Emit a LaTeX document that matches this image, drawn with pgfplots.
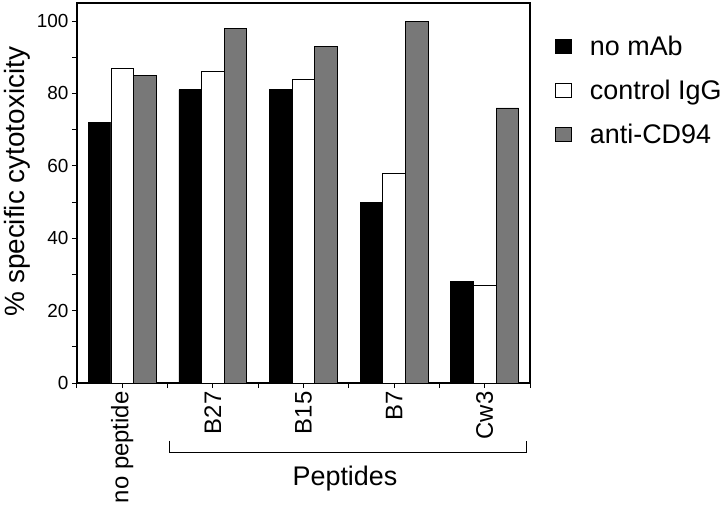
\documentclass[border=0pt]{standalone}
\usepackage{fontspec}
\setmainfont{Liberation Sans}
\usepackage{pgfplots}
\pgfplotsset{compat=1.18}
\definecolor{cdgray}{gray}{0.47}
\pgfplotsset{sqlegend/.style={legend image code/.code={\draw[##1] (0bp,-7bp) rectangle (16bp,7bp); \path (32bp,0bp);}}}
\begin{document}
\begin{tikzpicture}
\begin{axis}[
  scale only axis,
  width=453bp, height=380bp,
  xmin=-0.5, xmax=4.5,
  ymin=0, ymax=105,
  ybar=0pt, bar width=0.25,
  xtick={0,1,2,3,4},
  xticklabels={no peptide,B27,B15,B7,Cw3},
  minor xtick={-0.5,0.5,1.5,2.5,3.5,4.5},
  ytick={0,20,40,60,80,100},
  minor ytick={10,30,50,70,90},
  tick align=outside,
  major tick length=5bp, minor tick length=5bp,
  tick style={black, line width=1bp},
  axis line style={line width=1.2bp},
  xtick pos=bottom, ytick pos=left,
  /pgf/number format/assume math mode=true,
  yticklabel style={font=\fontsize{19}{22}\selectfont},
  xticklabel style={font=\fontsize{24}{28}\selectfont, rotate=90, anchor=east},
  ylabel={\% specific cytotoxicity},
  ylabel style={font=\fontsize{28}{32}\selectfont, at={(ticklabel cs:0.53)}},
  clip=false,
  legend style={draw=none, fill=none, at={(1,1)}, anchor=north west,
    xshift=25bp, yshift=-31bp, font=\fontsize{27}{31}\selectfont,
    row sep=19bp, inner sep=0pt, column sep=0pt, cells={anchor=west}},
  legend cell align=left,
  sqlegend,
]
\addplot[draw=black, fill=black, line width=0.8bp, sqlegend]
  coordinates {(0,72) (1,81) (2,81) (3,50) (4,28)};
\addlegendentry{no mAb}
\addplot[draw=black, fill=white, line width=0.8bp, sqlegend]
  coordinates {(0,87) (1,86) (2,84) (3,58) (4,27)};
\addlegendentry{control IgG}
\addplot[draw=black, fill=cdgray, line width=0.8bp, sqlegend]
  coordinates {(0,85) (1,98) (2,93) (3,100) (4,76)};
\addlegendentry{anti-CD94}
\draw[line width=1.4bp] (axis cs:0.519,-15.94) -- (axis cs:0.519,-19.14) -- (axis cs:4.463,-19.14) -- (axis cs:4.463,-15.94);
\node[font=\fontsize{27}{31}\selectfont] at (axis cs:2.458,-26.5) {Peptides};
\end{axis}
\pgfresetboundingbox
\path[use as bounding box] (-77bp,-122bp) rectangle (643bp,383bp);
\end{tikzpicture}
\end{document}
